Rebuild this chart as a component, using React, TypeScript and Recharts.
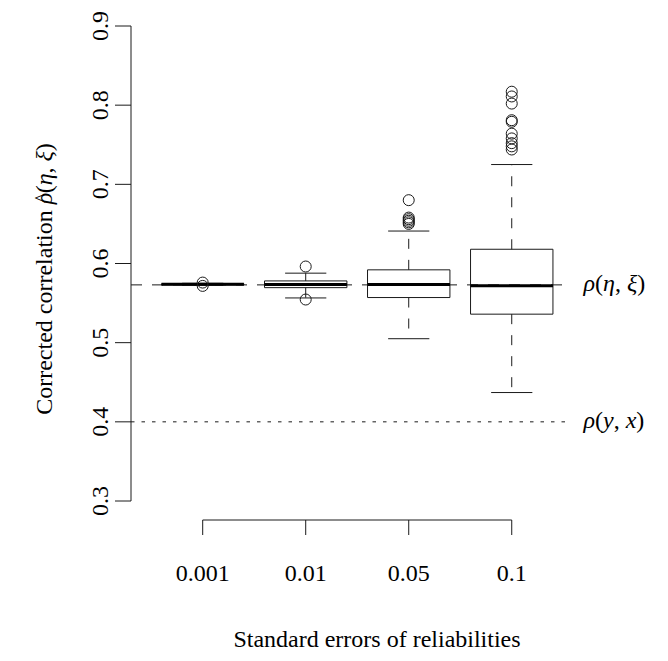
import {
  ComposedChart,
  XAxis,
  YAxis,
  Scatter,
  ReferenceArea,
  ReferenceLine,
} from 'recharts';

const INK = '#1a1a1a';
const SERIF =
  "'Liberation Serif', 'DejaVu Serif', 'Noto Serif', 'Times New Roman', serif";

// boxplot stats, one entry per reliability standard error
const groups = ['0.001', '0.01', '0.05', '0.1'];
const groupX = [1, 2, 3, 4];
const lowerWhisker = [0.5725, 0.5565, 0.505, 0.437];
const lowerHinge = [0.573, 0.5695, 0.557, 0.536];
const medians = [0.5737, 0.5735, 0.5735, 0.572];
const upperHinge = [0.5743, 0.578, 0.592, 0.618];
const upperWhisker = [0.575, 0.5878, 0.641, 0.725];
const outliers = [
  [0.5717, 0.5759],
  [0.5545, 0.5962],
  [0.65, 0.652, 0.654, 0.656, 0.658, 0.68],
  [0.744, 0.748, 0.752, 0.758, 0.764, 0.779, 0.781, 0.802, 0.811, 0.817],
];

const yTicks = [0.3, 0.4, 0.5, 0.6, 0.7, 0.8, 0.9];
const rhoLatent = 0.573;
const rhoObserved = 0.4;

const X_DOMAIN: [number, number] = [0.304, 5.08];
const Y_DOMAIN: [number, number] = [0.276, 0.9];
const BOX_HALF = 0.4;
const CAP_HALF = 0.2;
const LINE_END = 4.57;

const textStyle = { fontFamily: SERIF, fontSize: 24 };

const outlierPoints = outliers.flatMap((vals, i) =>
  vals.map((y) => ({ x: groupX[i], y }))
);

function XTick(props: any) {
  const { x, y, payload } = props;
  const idx = groupX.indexOf(payload.value);
  return (
    <text x={x} y={y + 44} textAnchor="middle" style={textStyle} fill="#000">
      {groups[idx] ?? ''}
    </text>
  );
}

function YTick(props: any) {
  const { x, y, payload } = props;
  const bx = x - 5;
  return (
    <text
      x={bx}
      y={y}
      transform={`rotate(-90, ${bx}, ${y})`}
      textAnchor="middle"
      style={textStyle}
      fill="#000"
    >
      {Number(payload.value).toFixed(1)}
    </text>
  );
}

function OutlierShape(props: any) {
  return (
    <circle
      cx={props.cx}
      cy={props.cy}
      r={5.5}
      fill="none"
      stroke={INK}
      strokeWidth={1}
    />
  );
}

function mathLabel(parts: [string, string]) {
  return (props: any) => {
    const vb = props.viewBox || {};
    const x = (vb.x ?? 0) + (vb.width ?? 0) + 13;
    const y = (vb.y ?? 0) + 6;
    return (
      <text x={x} y={y} style={textStyle} fill="#000">
        <tspan fontStyle="italic">ρ</tspan>
        <tspan>(</tspan>
        <tspan fontStyle="italic">{parts[0]}</tspan>
        <tspan>, </tspan>
        <tspan fontStyle="italic">{parts[1]}</tspan>
        <tspan>)</tspan>
      </text>
    );
  };
}

// chart sits inside the default 8px body margin, so it is 8px smaller
export default function App() {
  return (
    <div style={{ fontFamily: SERIF }}>
      <ComposedChart
        width={660}
        height={653}
        margin={{ top: 18, right: 45, bottom: 0, left: 0 }}
      >
        <XAxis
          type="number"
          dataKey="x"
          domain={X_DOMAIN}
          ticks={groupX}
          allowDataOverflow
          axisLine={false}
          tickSize={15}
          tickLine={{ stroke: INK }}
          tick={<XTick />}
          height={141}
          label={{
            content: () => (
              <text x={369} y={639} textAnchor="middle" style={textStyle} fill="#000">
                Standard errors of reliabilities
              </text>
            ),
          }}
        />
        <YAxis
          type="number"
          dataKey="y"
          domain={Y_DOMAIN}
          ticks={yTicks}
          allowDataOverflow
          axisLine={false}
          tickSize={16}
          tickLine={{ stroke: INK }}
          tick={<YTick />}
          width={123}
          label={{
            content: () => (
              <text
                x={44}
                y={271}
                transform="rotate(-90, 44, 271)"
                textAnchor="middle"
                style={textStyle}
                fill="#000"
              >
                {'Corrected correlation '}
                <tspan fontStyle="italic">ρ</tspan>
                <tspan dx={-10} dy={-3} fontSize={20}>^</tspan>
                <tspan dy={3}>(</tspan>
                <tspan fontStyle="italic">η</tspan>
                <tspan>, </tspan>
                <tspan fontStyle="italic">ξ</tspan>
                <tspan>)</tspan>
              </text>
            ),
          }}
        />

        {/* R-style axis lines spanning only the tick range */}
        <ReferenceLine
          segment={[
            { x: X_DOMAIN[0], y: yTicks[0] },
            { x: X_DOMAIN[0], y: yTicks[yTicks.length - 1] },
          ]}
          stroke={INK}
          ifOverflow="visible"
        />
        <ReferenceLine
          segment={[
            { x: groupX[0], y: Y_DOMAIN[0] },
            { x: groupX[groupX.length - 1], y: Y_DOMAIN[0] },
          ]}
          stroke={INK}
          ifOverflow="visible"
        />

        {/* reference correlations */}
        <ReferenceLine
          segment={[
            { x: X_DOMAIN[0], y: rhoLatent },
            { x: LINE_END, y: rhoLatent },
          ]}
          stroke={INK}
          strokeDasharray="11 10"
          ifOverflow="visible"
          label={{ content: mathLabel(['η', 'ξ']) }}
        />
        <ReferenceLine
          segment={[
            { x: X_DOMAIN[0], y: rhoObserved },
            { x: LINE_END, y: rhoObserved },
          ]}
          stroke={INK}
          strokeDasharray="3.5 7"
          ifOverflow="visible"
          label={{ content: mathLabel(['y', 'x']) }}
        />

        {groupX.map((gx, i) => (
          <ReferenceArea
            key={`box-${i}`}
            x1={gx - BOX_HALF}
            x2={gx + BOX_HALF}
            y1={lowerHinge[i]}
            y2={upperHinge[i]}
            fill="none"
            fillOpacity={0}
            stroke={INK}
            strokeWidth={1}
            ifOverflow="visible"
          />
        ))}
        {groupX.map((gx, i) => (
          <ReferenceLine
            key={`wu-${i}`}
            segment={[
              { x: gx, y: upperHinge[i] },
              { x: gx, y: upperWhisker[i] },
            ]}
            stroke={INK}
            strokeDasharray="10 11"
            ifOverflow="visible"
          />
        ))}
        {groupX.map((gx, i) => (
          <ReferenceLine
            key={`wl-${i}`}
            segment={[
              { x: gx, y: lowerHinge[i] },
              { x: gx, y: lowerWhisker[i] },
            ]}
            stroke={INK}
            strokeDasharray="10 11"
            ifOverflow="visible"
          />
        ))}
        {groupX.map((gx, i) => (
          <ReferenceLine
            key={`cu-${i}`}
            segment={[
              { x: gx - CAP_HALF, y: upperWhisker[i] },
              { x: gx + CAP_HALF, y: upperWhisker[i] },
            ]}
            stroke={INK}
            ifOverflow="visible"
          />
        ))}
        {groupX.map((gx, i) => (
          <ReferenceLine
            key={`cl-${i}`}
            segment={[
              { x: gx - CAP_HALF, y: lowerWhisker[i] },
              { x: gx + CAP_HALF, y: lowerWhisker[i] },
            ]}
            stroke={INK}
            ifOverflow="visible"
          />
        ))}
        {groupX.map((gx, i) => (
          <ReferenceLine
            key={`med-${i}`}
            segment={[
              { x: gx - BOX_HALF, y: medians[i] },
              { x: gx + BOX_HALF, y: medians[i] },
            ]}
            stroke="#000"
            strokeWidth={3}
            ifOverflow="visible"
          />
        ))}

        <Scatter
          data={outlierPoints}
          dataKey="y"
          shape={<OutlierShape />}
          isAnimationActive={false}
        />
      </ComposedChart>
    </div>
  );
}
